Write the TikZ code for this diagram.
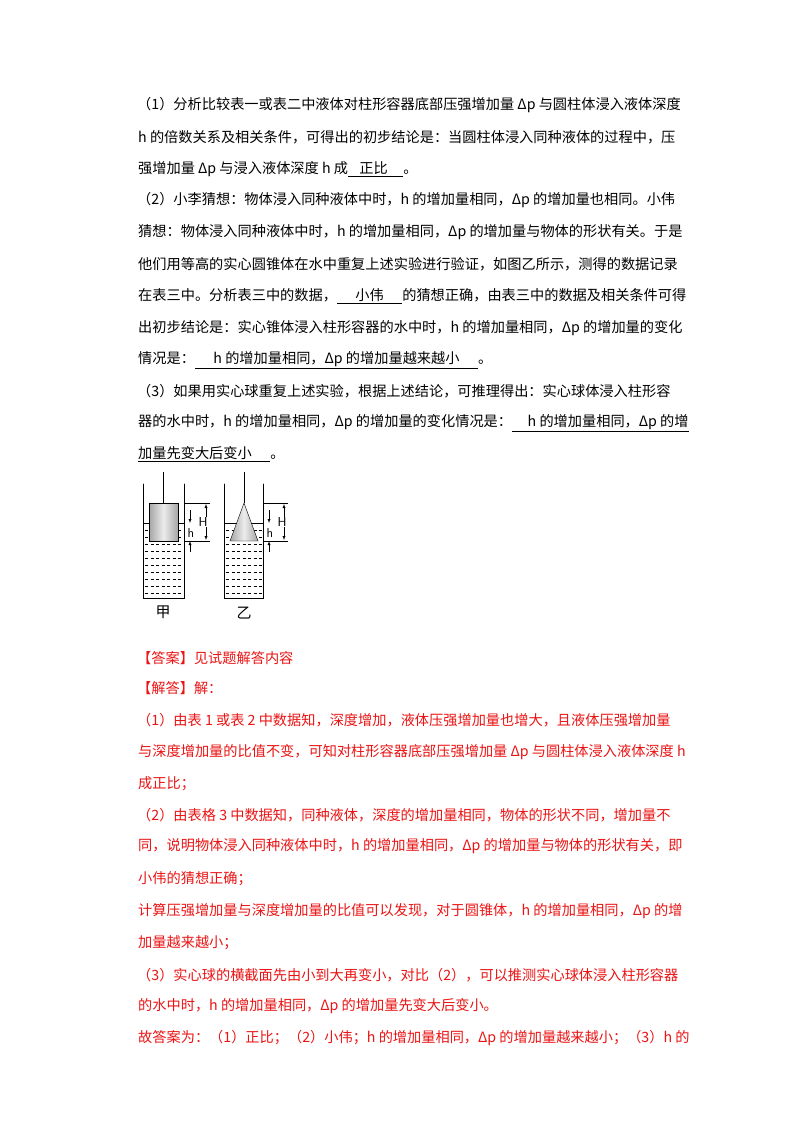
\documentclass[tikz,border=0pt]{standalone}
\usepackage{fontspec}
\setmainfont{Noto Sans CJK SC}
\usetikzlibrary{positioning}
\definecolor{ansred}{RGB}{235,20,20}
\tikzset{
  zeile/.style={anchor=west,inner sep=0pt,font=\fontsize{14.2}{16}\selectfont},
  rzeile/.style={zeile,text=ansred},
  wand/.style={thick,line cap=round},
  wasser/.style={dash pattern=on 3pt off 2.5pt,thin},
  mass/.style={thin},
  Pfeil/.style={thin,->,>=latex},
  marke/.style={font=\sffamily\fontsize{13}{13}\selectfont,inner sep=0.5pt},
  bild/.style={font=\fontsize{15}{15}\selectfont}
}
\newcommand{\ul}[1]{\underline{\hspace{1.3em}#1\hspace{1.3em}}}
\begin{document}
\begin{tikzpicture}[x=1pt,y=-1pt]
\useasboundingbox (0,0) rectangle (800,1132);
\fill[white] (0,0) rectangle (800,1132);

%Aufgabentext
\node[zeile] (a1) at (137,105) {（1）分析比较表一或表二中液体对柱形容器底部压强增加量 Δp 与圆柱体浸入液体深度};
\node[zeile] (a2) at (138,137) {h 的倍数关系及相关条件，可得出的初步结论是：当圆柱体浸入同种液体的过程中，压};
\node[zeile] (a3) at (138,169) {强增加量 Δp 与浸入液体深度 h 成\underline{\hspace{0.8em}正比\hspace{1.1em}}。};
\node[zeile] (a4) at (137,200) {（2）小李猜想：物体浸入同种液体中时，h 的增加量相同，Δp 的增加量也相同。小伟};
\node[zeile] (a5) at (138,232) {猜想：物体浸入同种液体中时，h 的增加量相同，Δp 的增加量与物体的形状有关。于是};
\node[zeile] (a6) at (138,264) {他们用等高的实心圆锥体在水中重复上述实验进行验证，如图乙所示，测得的数据记录};
\node[zeile] (a7) at (138,296) {在表三中。分析表三中的数据，\ul{小伟}的猜想正确，由表三中的数据及相关条件可得};
\node[zeile] (a8) at (138,328) {出初步结论是：实心锥体浸入柱形容器的水中时，h 的增加量相同，Δp 的增加量的变化};
\node[zeile] (a9) at (138,360) {情况是：\ul{h 的增加量相同，Δp 的增加量越来越小}。};
\node[zeile] (a10) at (137,391) {（3）如果用实心球重复上述实验，根据上述结论，可推理得出：实心球体浸入柱形容};
\node[zeile] (a11) at (138,423) {器的水中时，h 的增加量相同，Δp 的增加量的变化情况是：\underline{\hspace{1.1em}h 的增加量相同，Δp 的增}};
\node[zeile] (a12) at (138,454) {\underline{加量先变大后变小\hspace{1.3em}}。};

%Gefaess Jia
\draw[wand] (143,484) -- (143,598) -- (184,598) -- (184,484);
\draw[thin] (143,523) -- (149,523) (178,523) -- (184,523);
\foreach \y in {530,537,...,594}
  \draw[wasser] (145,\y) -- (183,\y);
\draw[thin] (163,472) -- (163,503);
\shade[left color=gray!70,right color=gray!70,middle color=gray!15,draw=black,thin] (149,503) rectangle (178,541);
\draw[mass] (184,503) -- (210,503) (184,541) -- (210,541);
\draw[mass,<->,>=latex] (206,504) -- (206,540);
\node[marke,fill=white] (H1) at (203,522) {H};
\draw[Pfeil] (190,510) -- (190,523);
\draw[Pfeil] (190,552) -- (190,541);
\node[marke] (h1) at (191,533) {h};
\node[bild] (jia) at (163,612) {甲};

%Gefaess Yi
\draw[wand] (224,484) -- (224,598) -- (263,598) -- (263,484);
\draw[thin] (224,523) -- (263,523);
\foreach \y in {530,537,...,594}
  \draw[wasser] (226,\y) -- (262,\y);
\draw[thin] (244,472) -- (244,503);
\shade[left color=gray!70,right color=gray!70,middle color=gray!15,draw=black,thin] (244,503) -- (258,541) -- (230,541) -- cycle;
\draw[mass] (263,503) -- (288,503) (263,541) -- (288,541);
\draw[mass,<->,>=latex] (284,504) -- (284,540);
\node[marke,fill=white] (H2) at (282,522) {H};
\draw[Pfeil] (269,510) -- (269,523);
\draw[Pfeil] (269,552) -- (269,541);
\node[marke] (h2) at (270,533) {h};
\node[bild] (yi) at (244,613) {乙};

%Loesung
\node[rzeile] (b1) at (137,658) {【答案】见试题解答内容};
\node[rzeile] (b2) at (137,688) {【解答】解：};
\node[rzeile] (b3) at (137,720) {（1）由表 1 或表 2 中数据知，深度增加，液体压强增加量也增大，且液体压强增加量};
\node[rzeile] (b4) at (138,752) {与深度增加量的比值不变，可知对柱形容器底部压强增加量 Δp 与圆柱体浸入液体深度 h};
\node[rzeile] (b5) at (138,784) {成正比；};
\node[rzeile] (b6) at (137,815) {（2）由表格 3 中数据知，同种液体，深度的增加量相同，物体的形状不同，增加量不};
\node[rzeile] (b7) at (138,846) {同，说明物体浸入同种液体中时，h 的增加量相同，Δp 的增加量与物体的形状有关，即};
\node[rzeile] (b8) at (138,879) {小伟的猜想正确；};
\node[rzeile] (b9) at (138,911) {计算压强增加量与深度增加量的比值可以发现，对于圆锥体，h 的增加量相同，Δp 的增};
\node[rzeile] (b10) at (138,943) {加量越来越小；};
\node[rzeile] (b11) at (137,975) {（3）实心球的横截面先由小到大再变小，对比（2），可以推测实心球体浸入柱形容器};
\node[rzeile] (b12) at (138,1006) {的水中时，h 的增加量相同，Δp 的增加量先变大后变小。};
\node[rzeile] (b13) at (138,1038) {故答案为：（1）正比；（2）小伟；h 的增加量相同，Δp 的增加量越来越小；（3）h 的};
\end{tikzpicture}
\end{document}
